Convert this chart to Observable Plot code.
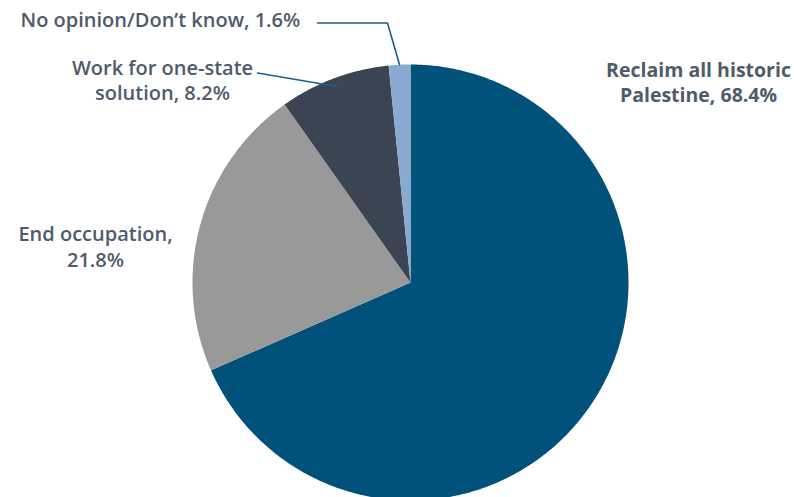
<!DOCTYPE html>
<html>
<head>
<meta charset="utf-8">
<script src="https://cdn.jsdelivr.net/npm/d3@7"></script>
<script src="https://cdn.jsdelivr.net/npm/@observablehq/plot@0.6"></script>
<style>
html,body{margin:0;padding:0;background:#fff;}
</style>
</head>
<body>
<div id="chart"></div>
<script>
const categories = ["Reclaim all historic Palestine", "End occupation", "Work for one-state solution", "No opinion/Don’t know"];
const values = [68.4, 21.8, 8.2, 1.6];
const labels = ["Reclaim all historic\nPalestine, 68.4%", "End occupation,\n21.8%", "Work for one-state\nsolution, 8.2%", "No opinion/Don’t know, 1.6%"];
const colors = ["#00527a", "#999999", "#3b4452", "#8aaad2"];

const W = 794, H = 497, CX = 410, CY = 282, R = 218;
const px = v => (v - CX) / R;
const py = v => (CY - v) / R;

const total = d3.sum(values);
const polys = [];
let acc = 0;
const slices = values.map((v, i) => {
  const a0 = acc / total * 2 * Math.PI;
  acc += v;
  const a1 = acc / total * 2 * Math.PI;
  return {cat: categories[i], a0, a1, mid: (a0 + a1) / 2};
});
slices.forEach(s => {
  polys.push({cat: s.cat, x: 0, y: 0});
  const n = Math.max(2, Math.ceil((s.a1 - s.a0) / (Math.PI / 360)));
  for (let k = 0; k <= n; k++) {
    const a = s.a0 + (s.a1 - s.a0) * k / n;
    polys.push({cat: s.cat, x: Math.sin(a), y: Math.cos(a)});
  }
  polys.push({cat: s.cat, x: 0, y: 0});
});

const onArc = (i, r) => ({x: r * Math.sin(slices[i].mid), y: r * Math.cos(slices[i].mid)});
const leaders = [
  {id: "no", x: px(317), y: py(22.5)},
  {id: "no", x: px(387), y: py(22.5)},
  {id: "no", ...onArc(3, 1.0)},
  {id: "work", x: px(257), y: py(72.5)},
  {id: "work", ...onArc(2, 0.96)}
];

const textColor = "#4f5b6b";
const font = "'Open Sans', 'Noto Sans', sans-serif";

const chart = Plot.plot({
  width: W, height: H,
  margin: 0,
  x: {domain: [px(0), px(W)], range: [0, W], axis: null},
  y: {domain: [py(0), py(H)], range: [0, H], axis: null},
  color: {domain: categories, range: colors},
  style: {fontFamily: font, background: "#fff"},
  marks: [
    Plot.line(polys, {x: "x", y: "y", z: "cat", fill: "cat", stroke: "none", curve: "linear"}),
    Plot.line(leaders, {x: "x", y: "y", z: "id", stroke: "#1d5f8a", strokeWidth: 1.6}),
    Plot.text([labels[0]], {x: px(698), y: py(81), text: d => d, textAnchor: "middle", lineAnchor: "middle", lineHeight: 1.3, fontSize: 19.5, fontWeight: "bold", fill: textColor}),
    Plot.text([labels[1]], {x: px(95), y: py(245), text: d => d, textAnchor: "middle", lineAnchor: "middle", lineHeight: 1.3, fontSize: 20, fontWeight: 600, fill: textColor}),
    Plot.text([labels[2]], {x: px(162), y: py(79), text: d => d, textAnchor: "middle", lineAnchor: "middle", lineHeight: 1.25, fontSize: 20, fontWeight: 600, fill: textColor}),
    Plot.text([labels[3]], {x: px(20), y: py(20), text: d => d, textAnchor: "start", lineAnchor: "middle", fontSize: 20, fontWeight: 600, fill: textColor})
  ]
});
document.getElementById("chart").appendChild(chart);
</script>
</body>
</html>
